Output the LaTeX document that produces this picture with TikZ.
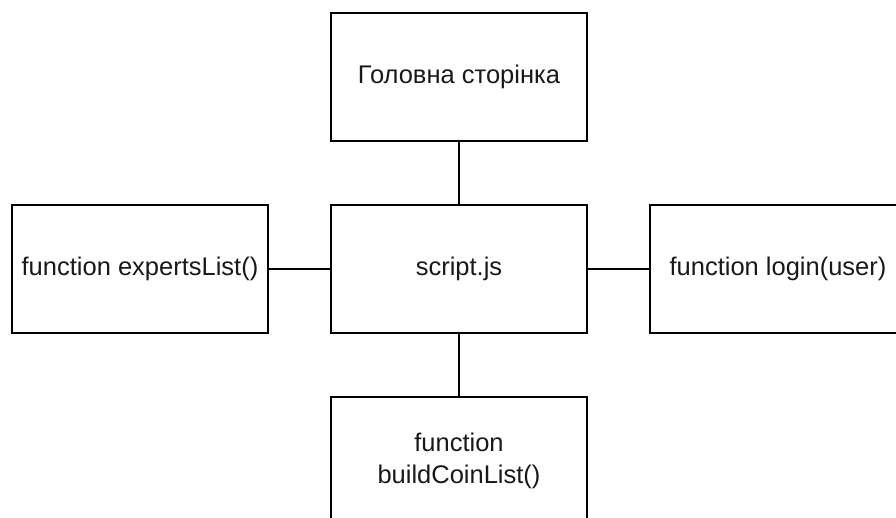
\documentclass[tikz,border=0pt]{standalone}
\usepackage{fontspec}
\setmainfont{Liberation Sans}
\usetikzlibrary{positioning}
\tikzset{box/.style={draw, line width=1.4pt, minimum width=256pt, minimum height=128pt,
  align=center, inner sep=0pt, outer sep=0pt, text=black!90,
  font=\fontsize{25.5}{32}\selectfont},
  link/.style={line width=1.4pt}}

\begin{document}
\begin{tikzpicture}[node distance=64pt]
\useasboundingbox (0,0) rectangle (896pt,-517pt);
\node [box] (a) at (459pt,-269pt) {script.js};
\node [box, above = of a] (b) {Головна сторінка};
\node [box, left = 63pt of a] (c) {function expertsList()};
\node [box, right = 63pt of a] (d) {function login(user)};
\node [box, below = of a] (e) {function\\buildCoinList()};

\draw [link] (a)--(b);
\draw [link] (a)--(c);
\draw [link] (a)--(d);
\draw [link] (a)--(e);
\end{tikzpicture}
\end{document}
